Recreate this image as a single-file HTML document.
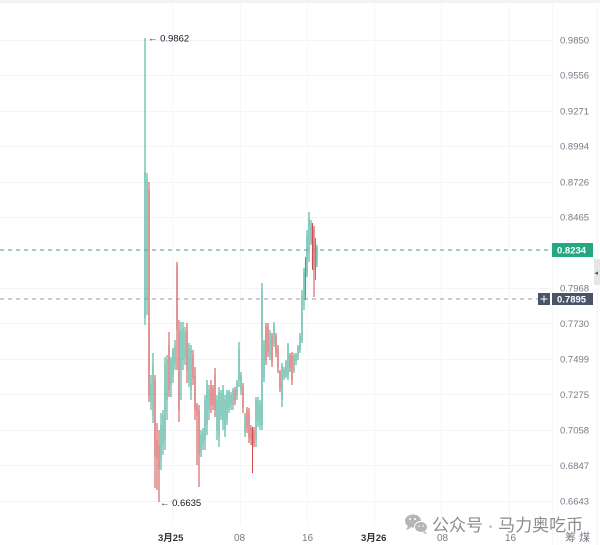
<!DOCTYPE html>
<html><head><meta charset="utf-8"><style>
html,body{margin:0;padding:0;background:#fff;}
svg{display:block;}
text{font-family:"Liberation Sans","Noto Sans CJK SC",sans-serif;}
</style></head><body>
<svg width="600" height="545" viewBox="0 0 600 545" xmlns="http://www.w3.org/2000/svg">
<rect width="600" height="545" fill="#fff"/>
<rect x="0" y="0" width="600" height="3" fill="#f3f3f3"/>
<g stroke="#f3f4f7" stroke-width="1">
<line x1="0" y1="40.5" x2="552" y2="40.5"/>
<line x1="0" y1="75.5" x2="552" y2="75.5"/>
<line x1="0" y1="111.5" x2="552" y2="111.5"/>
<line x1="0" y1="146.5" x2="552" y2="146.5"/>
<line x1="0" y1="182.5" x2="552" y2="182.5"/>
<line x1="0" y1="217.5" x2="552" y2="217.5"/>
<line x1="0" y1="288.5" x2="552" y2="288.5"/>
<line x1="0" y1="323.5" x2="552" y2="323.5"/>
<line x1="0" y1="359.5" x2="552" y2="359.5"/>
<line x1="0" y1="394.5" x2="552" y2="394.5"/>
<line x1="0" y1="430.5" x2="552" y2="430.5"/>
<line x1="0" y1="465.5" x2="552" y2="465.5"/>
<line x1="0" y1="501.5" x2="552" y2="501.5"/>
</g>
<g stroke="#f5f6f8" stroke-width="1">
<line x1="172.5" y1="4" x2="172.5" y2="525"/>
<line x1="240.5" y1="4" x2="240.5" y2="525"/>
<line x1="307.5" y1="4" x2="307.5" y2="525"/>
<line x1="374.5" y1="4" x2="374.5" y2="525"/>
<line x1="441.5" y1="4" x2="441.5" y2="525"/>
<line x1="509.5" y1="4" x2="509.5" y2="525"/>
<line x1="552.5" y1="4" x2="552.5" y2="545"/>
<line x1="597.5" y1="4" x2="597.5" y2="545"/>
</g>
<line x1="0" y1="250" x2="552" y2="250" stroke="#3aa58a" stroke-width="1" stroke-dasharray="4 4"/>
<line x1="0" y1="299" x2="538" y2="299" stroke="#9598a1" stroke-width="1" stroke-dasharray="4 4"/>
<g id="candles"></g>
<text x="148" y="41.5" font-size="9.5" fill="#131722">← 0.9862</text>
<text x="160" y="506" font-size="9.5" fill="#131722">← 0.6635</text>
<g font-size="9.5" fill="#787b86">
<text x="560" y="43.5">0.9850</text>
<text x="560" y="78.5">0.9556</text>
<text x="560" y="114.5">0.9271</text>
<text x="560" y="149.5">0.8994</text>
<text x="560" y="185.5">0.8726</text>
<text x="560" y="220.5">0.8465</text>
<text x="560" y="291.5">0.7968</text>
<text x="560" y="327">0.7730</text>
<text x="560" y="362.5">0.7499</text>
<text x="560" y="398">0.7275</text>
<text x="560" y="433.5">0.7058</text>
<text x="560" y="469">0.6847</text>
<text x="560" y="504.5">0.6643</text>
</g>
<rect x="552" y="243" width="41" height="14" fill="#22a883"/>
<text x="557" y="253.5" font-size="9.5" font-weight="bold" fill="#fff">0.8234</text>
<rect x="538" y="293" width="12" height="12" fill="#4a5468"/>
<path d="M544 295.5v7M540.5 299h7" stroke="#fff" stroke-width="1"/>
<rect x="552" y="293" width="41" height="12" fill="#4a5468"/>
<text x="557" y="302.5" font-size="9.5" font-weight="bold" fill="#fff">0.7895</text>
<rect x="594" y="259" width="6" height="26" fill="#e6e6e6"/>
<text x="594.5" y="275" font-size="7" fill="#555">◂</text>
<g font-size="10" fill="#787b86">
<text x="158" y="541" fill="#333" font-weight="bold" font-size="9.5">3月25</text>
<text x="234" y="541">08</text>
<text x="302" y="541">16</text>
<text x="361" y="541" fill="#333" font-weight="bold" font-size="9.5">3月26</text>
<text x="437" y="541">08</text>
<text x="505" y="541">16</text>
<text x="565" y="541" font-size="11">筹 煤</text>
</g>
<g fill="#b5b5b5">
<ellipse cx="413" cy="521" rx="8" ry="6.5"/>
<ellipse cx="421" cy="527" rx="6.5" ry="5.5" stroke="#fff" stroke-width="1"/>
<path d="M408 526l-2 4l5-2z"/>
<path d="M425 531l2 3l-4-1z"/>
</g>
<g fill="#fff"><circle cx="410" cy="519" r="1"/><circle cx="415" cy="519" r="1"/><circle cx="419" cy="526" r="0.8"/><circle cx="423" cy="526" r="0.8"/></g>
<text x="432" y="531" font-size="17" fill="#8c8c8c">公众号 · 马力奥吃币</text>
</svg>
<script>
var C=[
[145,38,325,172,318,'g'],[147,173,315,180,300,'g'],[149,182,402,190,395,'r'],[151,375,410,383,402,'g'],
[153,353,423,365,415,'g'],[155,375,488,380,455,'r'],[157,423,490,440,458,'r'],[159,430,502,445,470,'r'],
[161,413,470,425,460,'g'],[163,410,455,415,445,'g'],[165,357,450,365,440,'g'],[167,355,420,360,400,'g'],
[169,332,397,345,390,'r'],[171,357,397,360,385,'g'],[173,348,383,350,375,'g'],[175,340,370,345,365,'g'],
[177,262,370,265,330,'r'],[179,320,422,330,410,'r'],[181,322,400,330,370,'g'],[183,322,370,328,360,'g'],
[185,327,365,332,358,'g'],[187,323,383,330,370,'r'],[189,343,387,348,380,'g'],[191,345,400,350,390,'g'],
[193,350,385,355,378,'r'],[195,367,420,375,410,'r'],[197,403,465,405,415,'r'],[199,405,487,410,455,'r'],
[201,430,457,435,452,'g'],[203,428,450,432,445,'g'],[205,395,450,400,440,'g'],[207,380,435,385,425,'g'],
[209,385,420,390,410,'g'],[211,380,413,385,405,'r'],[213,385,410,388,405,'r'],[215,368,417,375,410,'r'],
[217,395,440,400,430,'g'],[219,387,447,392,435,'g'],[221,390,420,393,415,'g'],[223,385,430,390,420,'g'],
[225,395,437,400,430,'g'],[227,390,425,393,418,'g'],[229,390,413,392,408,'g'],[231,392,410,395,405,'g'],
[233,388,410,390,405,'g'],[235,387,405,390,400,'r'],[237,380,400,383,395,'g'],[239,342,387,350,380,'g'],
[241,372,395,375,390,'g'],[243,383,413,386,408,'r'],[245,413,437,416,432,'g'],[247,407,433,410,428,'r'],
[249,408,443,412,438,'r'],[251,425,445,428,440,'r'],[252.5,427,473,432,445,'r'],[254,427,447,430,443,'r'],
[256,397,447,400,440,'g'],[258,397,427,400,422,'g'],[260,400,430,403,425,'g'],[262,283,430,290,425,'g'],
[264,340,382,343,378,'g'],[266,323,365,327,360,'r'],[268,323,357,326,352,'r'],[270,330,360,333,355,'g'],
[272,333,367,336,362,'r'],[274,322,347,325,343,'g'],[276,333,357,336,353,'r'],[278,345,373,348,368,'r'],
[280,370,392,372,388,'r'],[282,363,407,366,400,'g'],[284,367,380,369,377,'g'],[286,360,378,362,375,'g'],
[288,343,380,346,376,'g'],[290,353,372,355,368,'r'],[292,352,385,355,380,'r'],[294,353,373,355,370,'g'],
[296,353,365,355,362,'g'],[298,345,360,347,357,'g'],[300,333,353,336,350,'g'],[302,290,343,295,340,'g'],
[304,268,310,272,300,'g'],[305.5,257,300,262,295,'g'],[307,230,277,235,272,'g'],[309,212,262,218,253,'g'],
[311,220,245,223,242,'g'],[312.5,223,270,227,265,'r'],[314,226,297,230,270,'r'],[315.5,238,280,242,270,'g'],
[317,245,267,248,262,'g']];
var g=document.getElementById('candles'),h='';
C.forEach(function(c){
var wc=c[5]=='g'?'#3aa892':'#cf4a4a',bc=c[5]=='g'?'#9dd8cb':'#eaa6a6';
h+='<rect x="'+(c[0]-0.8)+'" y="'+c[3]+'" width="1.6" height="'+(c[4]-c[3])+'" fill="'+bc+'" opacity="0.6"/>';
h+='<rect x="'+(c[0]-0.5)+'" y="'+c[1]+'" width="1" height="'+(c[2]-c[1])+'" fill="'+wc+'"/>';
});
g.innerHTML=h;
</script>
</body></html>
